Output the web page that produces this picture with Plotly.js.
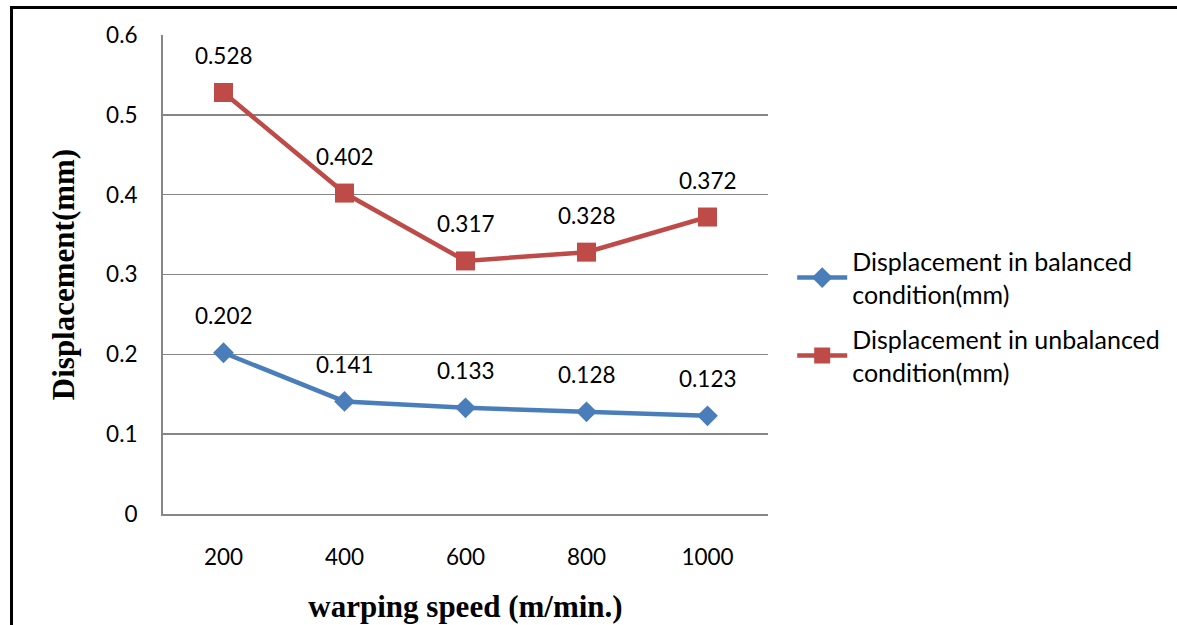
<!DOCTYPE html>
<html>
<head>
<meta charset="utf-8">
<script src="https://cdn.plot.ly/plotly-3.0.1.min.js"></script>
<style>
html,body{margin:0;padding:0;background:#fff;}
#chart{width:1177px;height:625px;}
</style>
</head>
<body>
<div id="chart"></div>
<script>
const speeds = ["200", "400", "600", "800", "1000"];
const balanced = [0.202, 0.141, 0.133, 0.128, 0.123];
const unbalanced = [0.528, 0.402, 0.317, 0.328, 0.372];
const seriesNames = ["Displacement in balanced<br>condition(mm)", "Displacement in unbalanced<br>condition(mm)"];
const xTitle = "warping speed (m/min.)";
const yTitle = "Displacement(mm)";

const sansFont = "Lato, 'Open Sans', sans-serif";
const serifFont = "'Liberation Serif', 'Times New Roman', serif";
const labelFont = {family: sansFont, size: 22.5, color: "#000"};

const traces = [
  {
    x: speeds, y: balanced, name: seriesNames[0], legendgroup: "a", type: "scatter", mode: "lines+markers",
    line: {color: "#4A7EBB", width: 4.5},
    marker: {symbol: "diamond", size: 16, color: "#4A7EBB"}
  },
  {
    x: speeds, y: unbalanced, name: seriesNames[1], legendgroup: "b", type: "scatter", mode: "lines+markers",
    line: {color: "#BE4B48", width: 4.5},
    marker: {symbol: "square", size: 19, color: "#BE4B48"}
  }
];

const annotations = [];
[balanced, unbalanced].forEach(arr => {
  arr.forEach((v, i) => {
    annotations.push({
      x: i, y: v, xref: "x", yref: "y", text: v.toFixed(3),
      showarrow: false, yshift: 37, font: labelFont
    });
  });
});

const layout = {
  width: 1177, height: 625,
  margin: {l: 163, r: 407, t: 35, b: 111},
  paper_bgcolor: "#fff", plot_bgcolor: "#fff",
  showlegend: true,
  legend: {
    x: 1.04, y: 0.575, xanchor: "left", yanchor: "top",
    font: {family: sansFont, size: 25, color: "#000"},
    traceorder: "grouped", tracegroupgap: 10, itemwidth: 50, bgcolor: "rgba(0,0,0,0)"
  },
  xaxis: {
    type: "category", range: [-0.5, 4.5],
    showgrid: false, showline: true, linecolor: "#868686", linewidth: 2,
    ticks: "", ticklabelstandoff: 22,
    tickfont: {family: sansFont, size: 22.5, color: "#000"},
    title: {text: xTitle, font: {family: serifFont, size: 31, color: "#000", weight: "bold"}, standoff: 26},
    fixedrange: true
  },
  yaxis: {
    range: [0, 0.6], dtick: 0.1, tick0: 0,
    showgrid: true, gridcolor: "#868686", gridwidth: 1.5,
    zeroline: false, showline: true, linecolor: "#868686", linewidth: 2,
    ticks: "", ticklabelstandoff: 19,
    tickfont: {family: sansFont, size: 22.5, color: "#000"},
    title: {text: yTitle, font: {family: serifFont, size: 31, color: "#000", weight: "bold"}, standoff: 22},
    fixedrange: true
  },
  annotations: annotations,
  shapes: [
    {type: "rect", xref: "paper", yref: "paper",
     x0: -0.2504, x1: 1.68, y0: -0.25, y1: 1.0574,
     line: {color: "#000", width: 3}, fillcolor: "rgba(0,0,0,0)", layer: "above"}
  ]
};

Plotly.newPlot("chart", traces, layout, {displayModeBar: false, staticPlot: true});
</script>
</body>
</html>
